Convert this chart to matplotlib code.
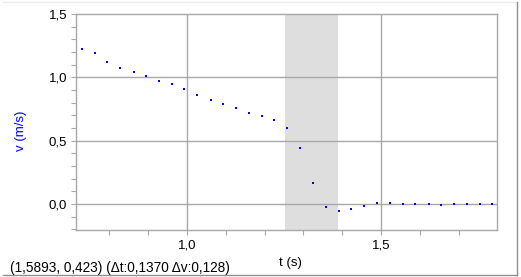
import numpy as np
import matplotlib
matplotlib.use('Agg')
import matplotlib.pyplot as plt
from matplotlib.ticker import MultipleLocator, FuncFormatter
from matplotlib.lines import Line2D

plt.rcParams['font.family'] = ['Liberation Sans', 'DejaVu Sans']

# velocity samples
t = [0.730, 0.763, 0.796, 0.828, 0.863, 0.895, 0.929, 0.961, 0.994, 1.027,
     1.061, 1.094, 1.127, 1.160, 1.193, 1.225, 1.258, 1.292, 1.325, 1.358,
     1.391, 1.423, 1.457, 1.490, 1.523, 1.556, 1.588, 1.622, 1.654, 1.688,
     1.720, 1.754, 1.786]
v = [1.222, 1.191, 1.125, 1.074, 1.039, 1.011, 0.969, 0.951, 0.911, 0.864,
     0.825, 0.788, 0.755, 0.718, 0.694, 0.666, 0.600, 0.439, 0.169, -0.024,
     -0.058, -0.042, -0.013, 0.005, 0.005, 0.002, 0.000, -0.003, -0.005, -0.003,
     0.000, -0.003, -0.003]
sel_start, sel_end = 1.2523, 1.3893
status = '(1,5893, 0,423) (\u0394t:0,1370 \u0394v:0,128)'

fig = plt.figure(figsize=(5.21, 2.77), dpi=100)
ax = fig.add_axes([76/521, 1 - 230/277, 421/521, 216/277])

grid_c = '#a8a8a8'
ax.axvspan(sel_start, sel_end, color='#dedede', zorder=0, lw=0)
for gx in [1.0, 1.5]:
    ax.axvline(gx, color=grid_c, lw=1.0, zorder=1)
for gy in [0.0, 0.5, 1.0]:
    ax.axhline(gy, color=grid_c, lw=1.0, zorder=1)

ax.plot(t, v, 's', color='#0000ff', markersize=1.6, mew=0, zorder=3)

ax.set_xlim(0.715, 1.798)
ax.set_ylim(-0.205, 1.5)
ax.xaxis.set_major_locator(MultipleLocator(0.5))
ax.xaxis.set_minor_locator(MultipleLocator(0.1))
ax.yaxis.set_major_locator(MultipleLocator(0.5))
ax.yaxis.set_minor_locator(MultipleLocator(0.1))
comma = FuncFormatter(lambda x, p: f'{x:.1f}'.replace('.', ','))
ax.xaxis.set_major_formatter(comma)
ax.yaxis.set_major_formatter(comma)
ax.tick_params(which='both', direction='out', length=3.5, width=0.8,
               color=grid_c, labelsize=9.5, pad=3)

for s in ax.spines.values():
    s.set_color(grid_c)
    s.set_linewidth(1.0)

ax.set_ylabel('v (m/s)', color='#0000ff', fontsize=9.5)
ax.yaxis.set_label_coords(-0.117, 0.46)
fig.text(290/521, 1 - 263/277, 't (s)', fontsize=9.5, ha='center', va='center')
fig.text(10/521, 1 - 268/277, status, fontsize=9.8, ha='left', va='center')

# window frame
fig.add_artist(Line2D([3/521, 517/521], [1 - 2/277] * 2, color='#ececec', lw=1))
fig.add_artist(Line2D([517/521] * 2, [1 - 2/277, 1 - 275/277], color='#909090', lw=1))
fig.add_artist(Line2D([3/521, 517/521], [1 - 275/277] * 2, color='#909090', lw=1))

fig.savefig('out.png', dpi=100)
